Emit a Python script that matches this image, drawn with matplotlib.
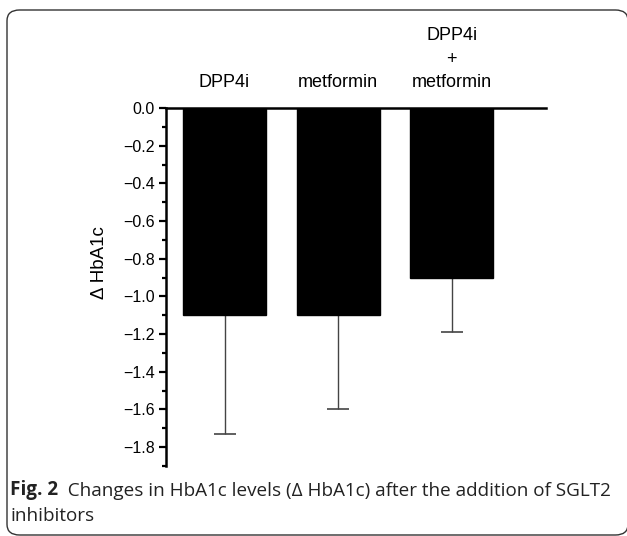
import matplotlib
matplotlib.use("Agg")
import matplotlib.pyplot as plt
from matplotlib.patches import FancyBboxPatch
from matplotlib.ticker import MultipleLocator

categories = ["DPP4i", "metformin", "DPP4i\n+\nmetformin"]
means = [-1.1, -1.1, -0.9]
errors = [0.63, 0.50, 0.29]
yticks = [0.0, -0.2, -0.4, -0.6, -0.8, -1.0, -1.2, -1.4, -1.6, -1.8]

plt.rcParams['font.family'] = ['Liberation Sans', 'DejaVu Sans']

fig = plt.figure(figsize=(6.27, 5.36), dpi=100)

# rounded frame
box = FancyBboxPatch((7/627, 1 - 535/536), (628-7)/627, (535-10)/536,
                     boxstyle="round,pad=0,rounding_size=0.02",
                     transform=fig.transFigure, fill=False,
                     edgecolor='#333333', linewidth=1.0)
fig.patches.append(box)

ax = fig.add_axes([166/627, 1 - 466/536, (546-166)/627, (466-108)/536])
x = list(range(len(categories)))
ax.bar(x, means, width=0.73, color='black', edgecolor='black', zorder=2)
ax.errorbar(x, means, yerr=[errors, [0]*3], fmt='none', ecolor='#444444',
            elinewidth=1.0, capsize=8, capthick=1.2, zorder=1)

ax.set_xlim(-0.515, 2.83)
ax.set_ylim(-1.9, 0)
ax.xaxis.tick_top()
ax.set_xticks(x)
ax.set_xticklabels(categories, fontsize=13, linespacing=1.5)
ax.tick_params(axis='x', length=0, pad=12)
ax.set_yticks(yticks)
ax.set_yticklabels([f"{v:.1f}".replace('-', '\u2212') if v != 0 else "0.0" for v in yticks], fontsize=11.5)
ax.yaxis.set_minor_locator(MultipleLocator(0.1))
ax.tick_params(axis='y', which='major', direction='out', length=5, width=1.6, pad=3)
ax.tick_params(axis='y', which='minor', direction='out', length=3, width=1.6)
for s in ['right', 'bottom']:
    ax.spines[s].set_visible(False)
ax.spines['left'].set_linewidth(1.8)
ax.spines['top'].set_linewidth(1.8)
ax.set_ylabel("\u0394 HbA1c", fontsize=13.5)
ax.yaxis.set_label_coords(-0.153, 0.567)

# caption
cap_font = ['Open Sans', 'DejaVu Sans']
t1 = fig.text(10/627, 1 - 495/536, "Fig. 2", fontsize=13.6, fontweight='bold',
              family=cap_font, va='baseline', color='#222222')
fig.add_artist(plt.Annotation("  Changes in HbA1c levels (\u0394 HbA1c) after the addition of SGLT2",
                              xy=(1, 0), xycoords=t1, va='bottom', ha='left',
                              fontsize=13.6, family=cap_font, color='#222222',
                              annotation_clip=False))
fig.text(10/627, 1 - 521/536, "inhibitors", fontsize=13.6, family=cap_font,
         va='baseline', color='#222222')

fig.savefig("out.png", dpi=100)
